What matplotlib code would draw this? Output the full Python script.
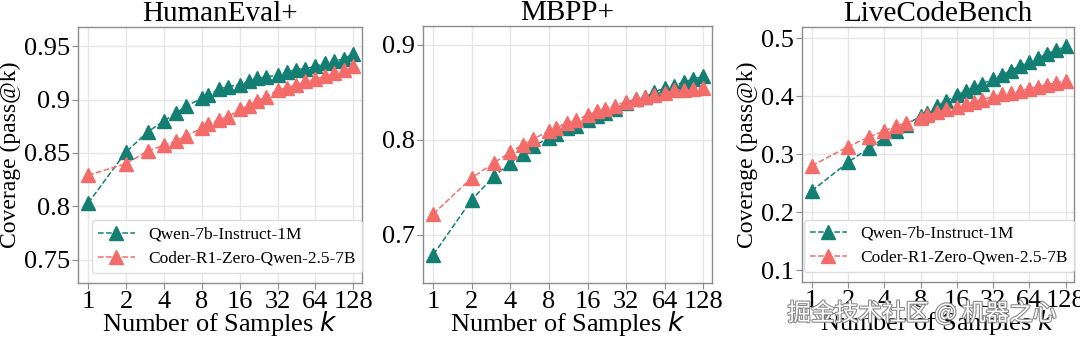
import numpy as np
import matplotlib
matplotlib.use('Agg')
import matplotlib.pyplot as plt
import matplotlib.patheffects as pe
from matplotlib.ticker import FixedLocator, NullFormatter, LogLocator

# Number of samples k used for pass@k
k_values = [1, 2, 3, 4, 5, 6, 8, 9, 11, 13, 16, 19, 22, 26, 32, 38, 45, 53, 64, 76, 90, 107, 128]

# HumanEval+ coverage
he_qwen = [0.803, 0.851, 0.870, 0.880, 0.887, 0.894, 0.901, 0.904, 0.910, 0.912, 0.914, 0.917,
           0.920, 0.921, 0.923, 0.926, 0.928, 0.929, 0.931, 0.934, 0.936, 0.938, 0.943]
he_coder = [0.829, 0.840, 0.852, 0.857, 0.861, 0.866, 0.873, 0.877, 0.881, 0.884, 0.891, 0.894,
            0.899, 0.902, 0.909, 0.911, 0.914, 0.917, 0.919, 0.922, 0.925, 0.928, 0.931]

# MBPP+ coverage
mbpp_qwen = [0.679, 0.737, 0.762, 0.776, 0.785, 0.793, 0.802, 0.806, 0.812, 0.815, 0.821, 0.825,
             0.828, 0.832, 0.839, 0.843, 0.845, 0.850, 0.855, 0.857, 0.861, 0.864, 0.867]
mbpp_coder = [0.722, 0.760, 0.776, 0.787, 0.795, 0.801, 0.809, 0.812, 0.818, 0.821, 0.826, 0.830,
              0.833, 0.836, 0.840, 0.843, 0.845, 0.847, 0.849, 0.852, 0.853, 0.854, 0.855]

# LiveCodeBench coverage
lcb_qwen = [0.237, 0.286, 0.311, 0.328, 0.340, 0.350, 0.366, 0.371, 0.383, 0.391, 0.402, 0.409,
            0.415, 0.421, 0.430, 0.437, 0.444, 0.452, 0.459, 0.466, 0.473, 0.479, 0.486]
lcb_coder = [0.280, 0.313, 0.330, 0.340, 0.348, 0.353, 0.363, 0.367, 0.373, 0.377, 0.382, 0.386,
             0.390, 0.394, 0.399, 0.403, 0.406, 0.409, 0.413, 0.416, 0.420, 0.423, 0.426]

titles = ['HumanEval+', 'MBPP+', 'LiveCodeBench']
qwen_label = 'Qwen-7b-Instruct-1M'
coder_label = 'Coder-R1-Zero-Qwen-2.5-7B'
xticks = [1, 2, 4, 8, 16, 32, 64, 128]

plt.rcParams['font.family'] = ['Liberation Serif', 'DejaVu Serif']
plt.rcParams['mathtext.fontset'] = 'dejavusans'

teal = '#137f72'
salmon = '#f46c6a'

fig = plt.figure(figsize=(10.8, 3.4), dpi=100)
W, H = 1080, 340
boxes = [(78, 27, 362, 283), (423, 26, 712, 283), (802, 27, 1074, 282)]
axes = [fig.add_axes([l / W, 1 - b / H, (r - l) / W, (b - t) / H]) for (l, t, r, b) in boxes]

data = [(he_qwen, he_coder), (mbpp_qwen, mbpp_coder), (lcb_qwen, lcb_coder)]
ylims = [(0.728, 0.968), (0.649, 0.92), (0.08, 0.519)]
yticks = [[0.75, 0.8, 0.85, 0.9, 0.95], [0.7, 0.8, 0.9], [0.1, 0.2, 0.3, 0.4, 0.5]]
yticklabels = [['0.75', '0.8', '0.85', '0.9', '0.95'], ['0.7', '0.8', '0.9'],
               ['0.1', '0.2', '0.3', '0.4', '0.5']]

for i, ax in enumerate(axes):
    qwen, coder = data[i]
    ax.plot(k_values, qwen, '--', color=teal, marker='^', markersize=10, linewidth=1.1,
            label=qwen_label, zorder=3)
    ax.plot(k_values, coder, '--', color=salmon, marker='^', markersize=10, linewidth=1.1,
            label=coder_label, zorder=3)
    ax.set_xscale('log', base=2)
    ax.set_xlim(0.83, 150)
    ax.xaxis.set_major_locator(FixedLocator(xticks))
    ax.set_xticklabels([str(x) for x in xticks])
    ax.xaxis.set_minor_locator(LogLocator(base=2, subs=np.arange(1.1, 2.0, 0.15)))
    ax.xaxis.set_minor_formatter(NullFormatter())
    ax.set_ylim(*ylims[i])
    ax.set_yticks(yticks[i])
    ax.set_yticklabels(yticklabels[i])
    ax.grid(True, which='major', color='#e6e6e6', linewidth=1.0)
    ax.set_axisbelow(True)
    for s in ax.spines.values():
        s.set_color('#8c8c8c')
        s.set_linewidth(1.0)
    ax.tick_params(axis='both', which='major', labelsize=19, length=4, color='#8c8c8c', pad=2)
    ax.tick_params(axis='x', which='minor', length=2, color='#b0b0b0')
    ax.set_title(titles[i], fontsize=21, pad=2)
    ax.set_xlabel('Number of Samples $k$', fontsize=19, labelpad=-3)
    if i != 1:
        ax.set_ylabel('Coverage (pass@k)', fontsize=17, labelpad=2)
        ax.legend(loc='lower right', fontsize=12.5, frameon=True, fancybox=True,
                  edgecolor='#dddddd', framealpha=1.0, borderpad=0.35, handlelength=2.1,
                  handletextpad=0.8, labelspacing=0.45, borderaxespad=0.0,
                  bbox_to_anchor=(1.0, 0.04))

# Site watermark over the last panel
fig.text(922 / W, 1 - 313 / H, '掘金技术社区 @ 机器之心', fontsize=17, ha='center', va='center',
         color='white', family=['Noto Sans CJK SC', 'DejaVu Sans'],
         path_effects=[pe.withStroke(linewidth=1.6, foreground='#8a8a8a')], zorder=10)

plt.savefig('out.png', dpi=100)
